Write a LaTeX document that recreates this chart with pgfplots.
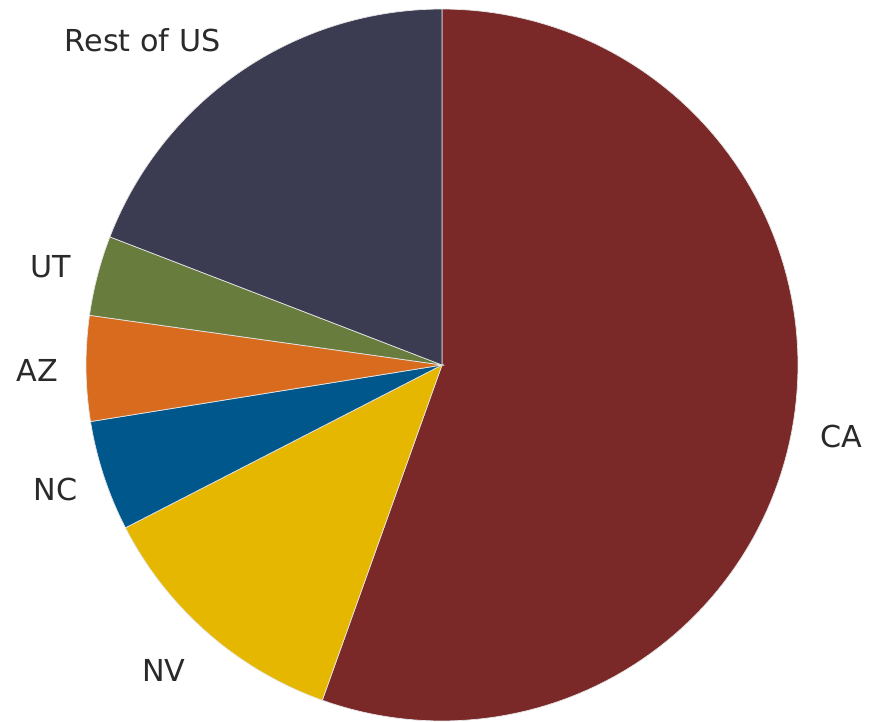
\documentclass[border=0pt]{standalone}
\usepackage{pgfplots}
\usepackage{pgfplotstable}
\pgfplotsset{compat=1.18}
\usepackage{fontspec}
\setmainfont{DejaVu Sans}
\definecolor{cCA}{HTML}{7A2828}
\definecolor{cNV}{HTML}{E5B700}
\definecolor{cNC}{HTML}{00578C}
\definecolor{cAZ}{HTML}{D86B1E}
\definecolor{cUT}{HTML}{677C3D}
\definecolor{cRest}{HTML}{3B3B52}
\definecolor{txt}{HTML}{2A2A2A}
\tikzset{lbl/.style={font=\fontsize{8.6}{10}\selectfont, text=txt}}
\pgfplotstableread{
idx pct
0 55.46
1 11.98
2 5.02
3 4.77
4 3.63
5 19.14
}\piedata
\begin{document}
\begin{tikzpicture}
\pgfplotstablegetelem{0}{pct}\of\piedata \pgfmathsetmacro\pA{\pgfplotsretval}
\pgfplotstablegetelem{1}{pct}\of\piedata \pgfmathsetmacro\pB{\pgfplotsretval}
\pgfplotstablegetelem{2}{pct}\of\piedata \pgfmathsetmacro\pC{\pgfplotsretval}
\pgfplotstablegetelem{3}{pct}\of\piedata \pgfmathsetmacro\pD{\pgfplotsretval}
\pgfplotstablegetelem{4}{pct}\of\piedata \pgfmathsetmacro\pE{\pgfplotsretval}
\pgfplotstablegetelem{5}{pct}\of\piedata \pgfmathsetmacro\pF{\pgfplotsretval}
\pgfmathsetmacro\cA{0}
\pgfmathsetmacro\cB{\cA+3.6*\pA}
\pgfmathsetmacro\cC{\cB+3.6*\pB}
\pgfmathsetmacro\cD{\cC+3.6*\pC}
\pgfmathsetmacro\cE{\cD+3.6*\pD}
\pgfmathsetmacro\cF{\cE+3.6*\pE}
\pgfmathsetmacro\cG{\cF+3.6*\pF}
\begin{axis}[
  width=8.75cm, height=7.21cm, scale only axis,
  hide axis, clip=false,
  xmin=-1.2416, xmax=1.2163, ymin=-1.0, ymax=1.0253,
]
\path (rel axis cs:0,0) rectangle (rel axis cs:1,1);
\addplot[fill=cCA, draw=white!80!gray, line width=0.2pt, domain=\cA:\cB, samples=120]
  ({sin(x)},{cos(x)}) -- (axis cs:0,0) -- cycle;
\addplot[fill=cNV, draw=white!80!gray, line width=0.2pt, domain=\cB:\cC, samples=40]
  ({sin(x)},{cos(x)}) -- (axis cs:0,0) -- cycle;
\addplot[fill=cNC, draw=white!80!gray, line width=0.2pt, domain=\cC:\cD, samples=20]
  ({sin(x)},{cos(x)}) -- (axis cs:0,0) -- cycle;
\addplot[fill=cAZ, draw=white!80!gray, line width=0.2pt, domain=\cD:\cE, samples=20]
  ({sin(x)},{cos(x)}) -- (axis cs:0,0) -- cycle;
\addplot[fill=cUT, draw=white!80!gray, line width=0.2pt, domain=\cE:\cF, samples=20]
  ({sin(x)},{cos(x)}) -- (axis cs:0,0) -- cycle;
\addplot[fill=cRest, draw=white!80!gray, line width=0.2pt, domain=\cF:\cG, samples=60]
  ({sin(x)},{cos(x)}) -- (axis cs:0,0) -- cycle;
\node[lbl] at (axis cs:1.121,-0.201) {CA};
\node[lbl] at (axis cs:-0.781,-0.857) {NV};
\node[lbl] at (axis cs:-1.086,-0.351) {NC};
\node[lbl] at (axis cs:-1.136,-0.014) {AZ};
\node[lbl] at (axis cs:-1.098,0.276) {UT};
\node[lbl] at (axis cs:-0.841,0.913) {Rest of US};
\end{axis}
\end{tikzpicture}
\end{document}
